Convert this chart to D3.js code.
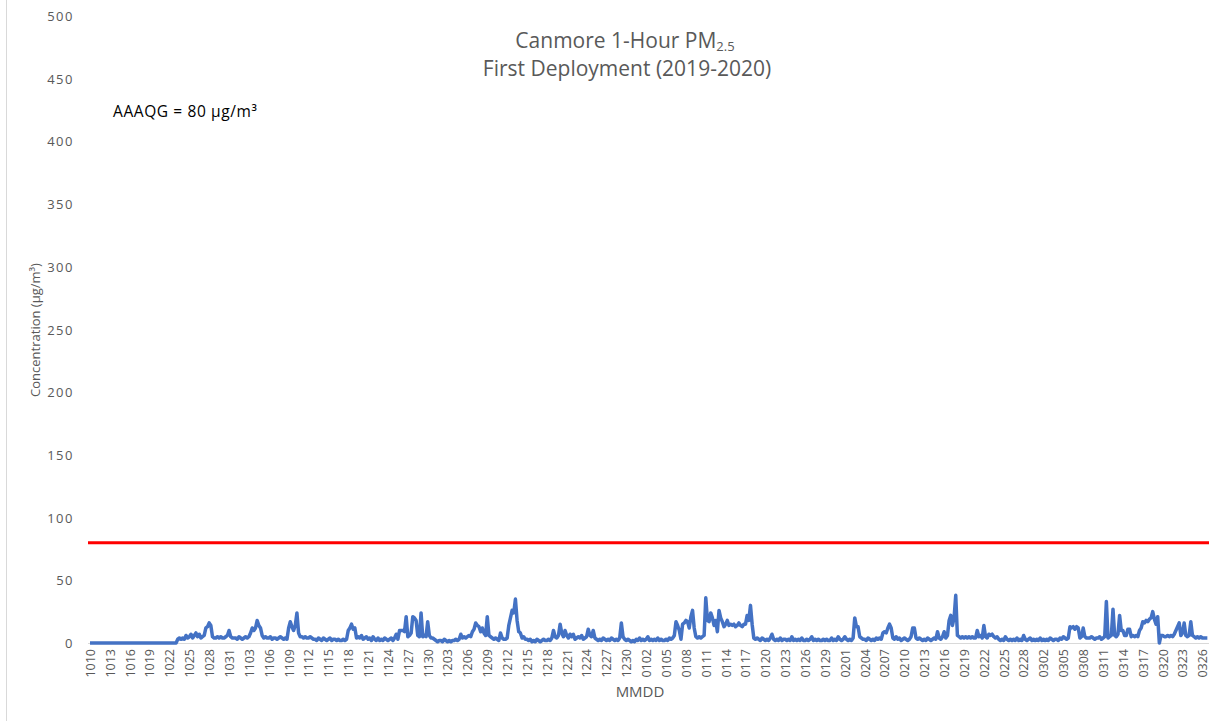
<!DOCTYPE html>
<html>
<head>
<meta charset="utf-8">
<script src="https://cdn.jsdelivr.net/npm/d3@7"></script>
<style>
  html, body { margin: 0; padding: 0; background: #fff; }
  svg { display: block; }
  text { font-family: "Open Sans", "Noto Sans", sans-serif; }
</style>
</head>
<body>
<svg id="chart" width="1217" height="721"></svg>
<script>
// Canmore 1-hour PM2.5, first deployment; four readings per day (00, 06, 12, 18 h)
const startDate = new Date(2019, 9, 10);
const pm25Oct = [
  0,0,0,0, 0,0,0,0, 0,0,0,0, 0,0,0,0, 0,0,0,0, 0,0,0,0, 0,0,0,0,
  0,0,0,0, 0,0,0,0, 0,0,0,0, 0,0,0,0, 0,0,0,0, 0,0,0,0,
  0,3,4,3, 4,3,6,4, 5,7,4,6, 8,5,7,4, 5,6,12,13, 16,14,5,4,
  4,5,4,5, 4,4,5,6, 10,5,4,4
];
const pm25Nov = [
  4,3,5,4, 3,4,5,4, 5,8,12,10, 12,18,14,12, 6,4,5,4, 4,5,3,4,
  4,3,4,5, 4,3,4,3, 12,17,13,10, 14,24,8,5, 5,4,5,4, 4,5,4,3,
  3,2,4,3, 2,4,3,2, 3,4,2,3, 3,2,3,2, 2,3,2,3, 10,12,15,11,
  12,4,5,4, 6,3,4,5, 3,4,2,5, 3,2,4,2, 3,2,4,3, 2,3,4,2,
  4,7,3,10, 10,10,9,21, 5,6,8,21, 20,18,6,5, 24,5,6,5, 17,6,4,4
];
const pm25Dec = [
  3,2,1,2, 2,1,3,2, 1,2,1,2, 2,3,2,3, 7,4,5,4, 5,6,5,9,
  11,16,14,13, 9,12,8,6, 21,6,5,4, 3,4,3,2, 8,4,3,3, 4,14,20,26,
  24,35,18,9, 8,4,5,3, 3,2,3,1, 2,1,3,2, 1,2,3,2, 2,3,2,4,
  10,5,4,6, 15,8,5,10, 6,4,7,5, 7,3,4,5, 4,6,3,4, 5,11,6,5,
  10,4,3,2, 3,2,4,3, 2,3,2,4, 3,2,3,2, 4,16,5,3, 2,3,2,1, 2,1,3,2
];
const pm25Jan = [
  4,2,3,2, 3,5,2,3, 2,3,2,4, 2,3,2,2, 3,2,4,3, 4,6,17,14,
  10,3,15,16, 18,17,12,21, 26,12,5,4, 5,4,5,6, 36,18,17,24, 20,14,18,9,
  26,20,17,13, 15,18,14,15, 14,15,13,14, 16,14,13,15, 15,22,18,30, 15,4,3,4,
  3,2,4,3, 2,3,2,4, 7,3,2,3, 2,4,2,3, 3,2,3,2, 5,2,3,2,
  3,2,4,2, 2,3,2,3, 5,2,3,2, 3,2,2,3, 2,3,2,2, 4,2,3,2, 5,3,2,3
];
const pm25Feb = [
  5,3,2,3, 2,4,20,13, 13,5,4,3, 3,2,4,3, 2,3,2,4, 3,4,3,8,
  9,8,12,15, 12,4,3,5, 3,4,2,3, 4,3,2,3, 5,12,12,4, 3,4,3,2,
  3,2,4,3, 2,3,4,3, 9,4,3,5, 9,4,6,18, 22,14,20,38, 6,5,4,5,
  4,5,4,5, 4,5,4,4, 10,5,6,4, 14,5,4,7, 6,7,5,4, 5,3,2,3,
  2,5,3,2, 3,2,3,2, 4,2,3,2, 6,3,2,3, 4,2,3,2
];
const pm25Mar = [
  3,2,4,2, 3,2,3,2, 4,3,2,3, 3,2,4,3, 5,4,3,4, 13,12,13,11,
  13,12,4,5, 12,5,4,4, 4,5,4,3, 4,4,5,3, 4,5,33,4, 5,6,27,6,
  5,7,22,10, 10,6,6,11, 11,5,6,5, 6,5,10,12, 17,16,18,17, 19,20,25,19,
  15,21,0,6, 6,5,5,6, 5,6,5,7, 10,13,16,6, 8,16,6,5, 6,17,6,5,
  4,5,4,5, 4,4,4,4
];
const readingsPerDay = 4;
const guideline = 80;
const yTicks = [0, 50, 100, 150, 200, 250, 300, 350, 400, 450, 500];
const labelStepDays = 3;
const lastLabelDay = 168;

const series = [].concat(pm25Oct, pm25Nov, pm25Dec, pm25Jan, pm25Feb, pm25Mar)
  .map((v, i) => ({ day: i / readingsPerDay, value: v }));

const svg = d3.select("#chart");
const W = 1217, H = 721;
const plot = { left: 90, right: 1209, top: 16, bottom: 643 };

// chart area outline
svg.append("rect").attr("x", 6.5).attr("y", -1).attr("width", W + 2).attr("height", H + 2)
  .attr("fill", "none").attr("stroke", "#d9d9d9").attr("stroke-width", 1);

const x = d3.scaleLinear().domain([0, 169]).range([plot.left, plot.right]);
const y = d3.scaleLinear().domain([0, 500]).range([plot.bottom, plot.top]);

// y axis labels
const yAxis = d3.axisLeft(y).tickValues(yTicks).tickSize(0).tickPadding(0);
const gy = svg.append("g").attr("transform", "translate(74,0)").call(yAxis);
gy.select(".domain").remove();
gy.selectAll("text").attr("fill", "#595959").style("font-size", "13px")
  .style("letter-spacing", "1.5px").attr("dy", "0.35em");

// category axis line
svg.append("line").attr("x1", plot.left - 2).attr("x2", plot.right)
  .attr("y1", y(0) + 0.5).attr("y2", y(0) + 0.5)
  .attr("stroke", "#d9d9d9").attr("stroke-width", 1);

// x axis labels every third day, MMDD
const fmt = d3.timeFormat("%m%d");
const labelDays = d3.range(0, lastLabelDay + 1, labelStepDays);
const xAxis = d3.axisBottom(x).tickValues(labelDays).tickSize(0).tickPadding(0)
  .tickFormat(d => fmt(d3.timeDay.offset(startDate, d)));
const gx = svg.append("g").attr("transform", `translate(0,${plot.bottom + 6})`).call(xAxis);
gx.select(".domain").remove();
gx.selectAll("text")
  .attr("fill", "#595959").style("font-size", "12.5px")
  .attr("text-anchor", "end").attr("transform", "rotate(-90)")
  .attr("x", 0).attr("y", 0).attr("dx", 0).attr("dy", "0.35em");

// guideline
svg.append("line")
  .attr("x1", x(0) - 2).attr("x2", plot.right)
  .attr("y1", y(guideline)).attr("y2", y(guideline))
  .attr("stroke", "#ff0000").attr("stroke-width", 3);

// PM2.5 series
const line = d3.line().x(d => x(d.day)).y(d => y(d.value));
svg.append("path").datum(series)
  .attr("d", line).attr("fill", "none")
  .attr("stroke", "#4472c4").attr("stroke-width", 3.5)
  .attr("stroke-linejoin", "round");

// titles
const title = svg.append("text").attr("x", 625).attr("y", 48)
  .attr("text-anchor", "middle").attr("fill", "#595959").style("font-size", "21px");
title.append("tspan").text("Canmore 1-Hour PM");
title.append("tspan").attr("dy", 3).style("font-size", "13px").text("2.5");
svg.append("text").attr("x", 627).attr("y", 76).attr("text-anchor", "middle")
  .attr("fill", "#595959").style("font-size", "21px").text("First Deployment (2019-2020)");

svg.append("text").attr("x", 113).attr("y", 117).attr("fill", "#000")
  .style("font-size", "15.5px").style("letter-spacing", "0.6px").text("AAAQG = 80 µg/m³");

svg.append("text").attr("transform", "translate(40,330) rotate(-90)")
  .attr("text-anchor", "middle").attr("fill", "#595959")
  .style("font-size", "13px").text("Concentration (µg/m³)");

svg.append("text").attr("x", 640).attr("y", 697).attr("text-anchor", "middle")
  .attr("fill", "#595959").style("font-size", "15px").text("MMDD");
</script>
</body>
</html>
